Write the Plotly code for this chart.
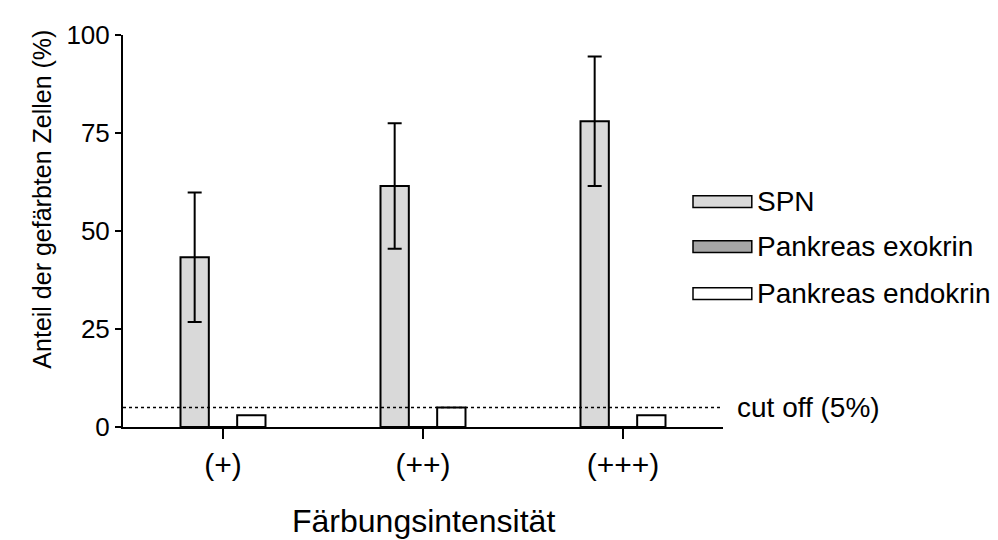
import plotly.graph_objects as go

categories = ["(+)", "(++)", "(+++)"]
series_names = ["SPN", "Pankreas exokrin", "Pankreas endokrin"]
spn = [43.3, 61.5, 78.0]
spn_err = [16.5, 16.0, 16.5]
exokrin = [0, 0, 0]
endokrin = [3, 5, 3]
cutoff = 5

colors = ["#d9d9d9", "#a6a6a6", "#ffffff"]
FONT = "Liberation Sans, Arial, sans-serif"

fig = go.Figure()
fig.add_trace(go.Bar(
    x=categories, y=spn, name=series_names[0],
    marker=dict(color=colors[0], line=dict(color="black", width=2)),
    error_y=dict(type="data", array=spn_err, visible=True,
                 color="black", thickness=2, width=7),
))
fig.add_trace(go.Bar(
    x=categories, y=exokrin, name=series_names[1],
    marker=dict(color=colors[1], line=dict(color="black", width=2)),
))
fig.add_trace(go.Bar(
    x=categories, y=endokrin, name=series_names[2],
    marker=dict(color=colors[2], line=dict(color="black", width=2)),
))

# cut off line
fig.add_shape(type="line", xref="x domain", yref="y", x0=0, x1=1,
              y0=cutoff, y1=cutoff,
              line=dict(color="black", width=1.5, dash="dot"))
fig.add_annotation(xref="x domain", yref="y", x=1.02, y=cutoff,
                   text="cut off (5%)", showarrow=False, xanchor="left",
                   font=dict(size=28, color="black", family=FONT))

# custom legend with wide rectangles
leg_y = [0.575, 0.46, 0.34]
for name, col, ly in zip(series_names, colors, leg_y):
    fig.add_shape(type="rect", xref="paper", yref="paper",
                  x0=0.95, x1=1.048, y0=ly - 0.015, y1=ly + 0.015,
                  fillcolor=col, line=dict(color="black", width=1.5))
    fig.add_annotation(xref="paper", yref="paper", x=1.053, y=ly,
                       text=name, showarrow=False, xanchor="left",
                       font=dict(size=28, color="black", family=FONT))

# axis titles as annotations (y title sits above centre in the original)
fig.add_annotation(xref="paper", yref="paper", x=-0.135, y=0.58,
                   text="Anteil der gefärbten Zellen (%)", textangle=-90,
                   showarrow=False, xanchor="center", yanchor="middle",
                   font=dict(size=25, color="black", family=FONT))
fig.add_annotation(xref="paper", yref="paper", x=0.5, y=-0.24,
                   text="Färbungsintensität",
                   showarrow=False, xanchor="center", yanchor="middle",
                   font=dict(size=32, color="black", family=FONT))

fig.update_layout(
    width=990, height=532,
    margin=dict(l=115, r=275, t=19, b=113),
    plot_bgcolor="white", paper_bgcolor="white",
    barmode="group", bargap=0.575, bargroupgap=0,
    showlegend=False,
    font=dict(family=FONT, size=26, color="black"),
)
fig.update_xaxes(
    range=[-0.5, 2.5], showline=True, linecolor="black", linewidth=2,
    ticks="outside", ticklen=10, tickwidth=2, tickcolor="black",
    showgrid=False, zeroline=False,
    tickfont=dict(size=30),
)
fig.update_yaxes(
    range=[0, 100], tickvals=[0, 25, 50, 75, 100],
    showline=True, linecolor="black", linewidth=2,
    ticks="outside", ticklen=6, tickwidth=2, tickcolor="black",
    showgrid=False, zeroline=False,
    tickfont=dict(size=26),
)

fig.write_html("out.html")
